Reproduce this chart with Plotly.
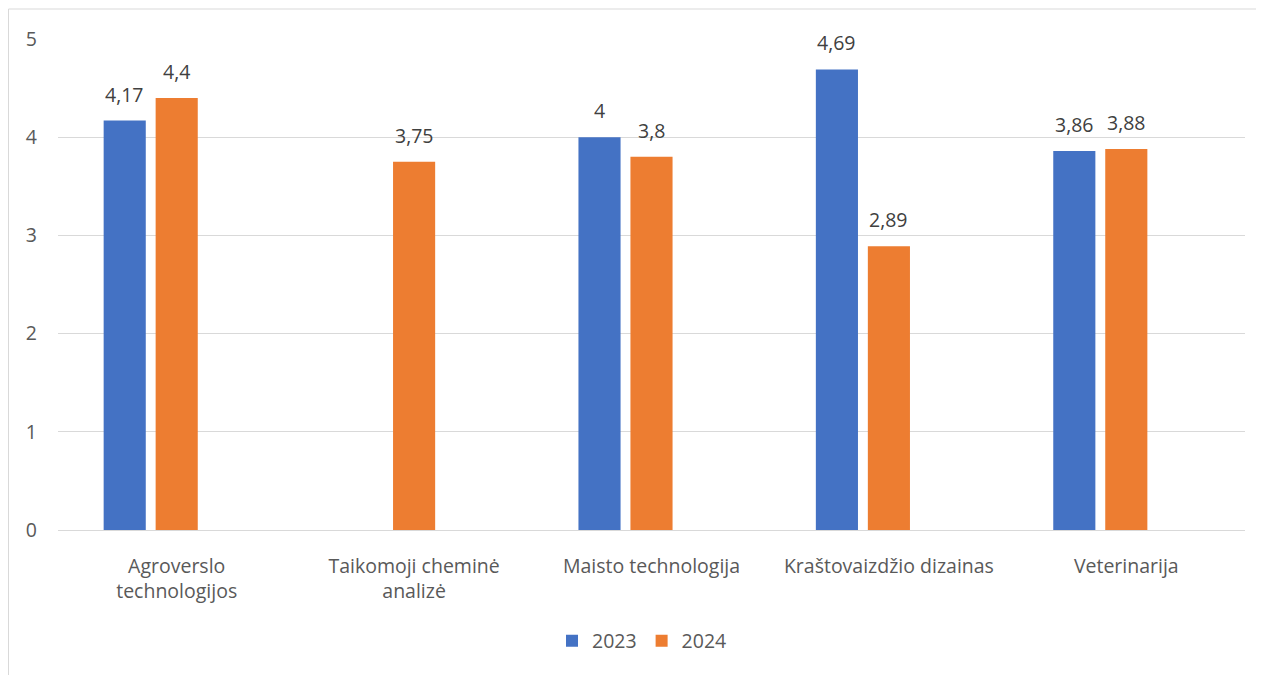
import plotly.graph_objects as go

categories = ["Agroverslo<br>technologijos", "Taikomoji cheminė<br>analizė",
              "Maisto technologija", "Kraštovaizdžio dizainas", "Veterinarija"]
values_2023 = [4.17, None, 4.00, 4.69, 3.86]
values_2024 = [4.40, 3.75, 3.80, 2.89, 3.88]
empty_series = [None, None, None, None, None]
y_ticks = [0, 1, 2, 3, 4, 5]

def fmt(v):
    s = ("%.2f" % v).rstrip("0").rstrip(".")
    return s.replace(".", ",")

FONT = "Open Sans"
FS = 19.5
fig = go.Figure()
fig.add_trace(go.Bar(name="2023", x=categories, y=values_2023,
                     marker=dict(color="#4472C4", line=dict(width=0))))
fig.add_trace(go.Bar(name="2024", x=categories, y=values_2024,
                     marker=dict(color="#ED7D31", line=dict(width=0))))
fig.add_trace(go.Bar(name="", x=categories, y=empty_series, showlegend=False,
                     marker=dict(color="#A5A5A5"), hoverinfo="skip"))

# page body has an 8px margin; figure starts at (8, 8) in the window
OFF = 8
L, R, T, B = 58 - OFF, 19, 39 - OFF, 145
W, H = 1264 - OFF, 675 - OFF
pw, ph = W - L - R, H - T - B

# data labels (value labels above bars), offset within the bar group
SLOT = 52  # px per bar slot in group
annotations = []
for vals, xs in ((values_2023, -SLOT), (values_2024, 0)):
    for c, v in zip(categories, vals):
        if v is None:
            continue
        annotations.append(dict(x=c, y=v, xref="x", yref="y", text=fmt(v),
                                showarrow=False, xshift=xs, yshift=11,
                                yanchor="bottom", xanchor="center",
                                font=dict(family=FONT, size=FS, color="#404040")))

fig.update_layout(
    width=W, height=H,
    margin=dict(l=L, r=R, t=T, b=B),
    paper_bgcolor="white", plot_bgcolor="white",
    barmode="group", bargap=0.343, bargroupgap=0.19,
    font=dict(family=FONT, size=FS, color="#595959"),
    showlegend=True,
    legend=dict(orientation="h", x=0.492, xanchor="center",
                y=-(641 - OFF - (T + ph)) / ph, yanchor="middle",
                font=dict(family=FONT, size=FS, color="#595959"),
                itemwidth=30, traceorder="normal"),
    xaxis=dict(showgrid=False, showline=False, ticks="", ticklabelstandoff=22,
               tickfont=dict(family=FONT, size=FS, color="#595959")),
    yaxis=dict(range=[0, 5], tickvals=y_ticks, ticktext=[str(t) for t in y_ticks],
               showgrid=True, gridcolor="#D9D9D9", gridwidth=1,
               zeroline=True, zerolinecolor="#D9D9D9", zerolinewidth=1,
               showline=False, ticks="", ticklabelstandoff=20,
               tickfont=dict(family=FONT, size=FS, color="#595959")),
    annotations=annotations,
    shapes=[dict(type="rect", xref="paper", yref="paper",
                 x0=(0.5 - L) / pw, x1=(W + 10 - L) / pw,
                 y0=-(H + 10 - T - ph) / ph, y1=1 + (T - (9 - OFF)) / ph,
                 line=dict(color="#D9D9D9", width=1), fillcolor="rgba(0,0,0,0)",
                 layer="below")],
)

fig.write_html("out.html")
